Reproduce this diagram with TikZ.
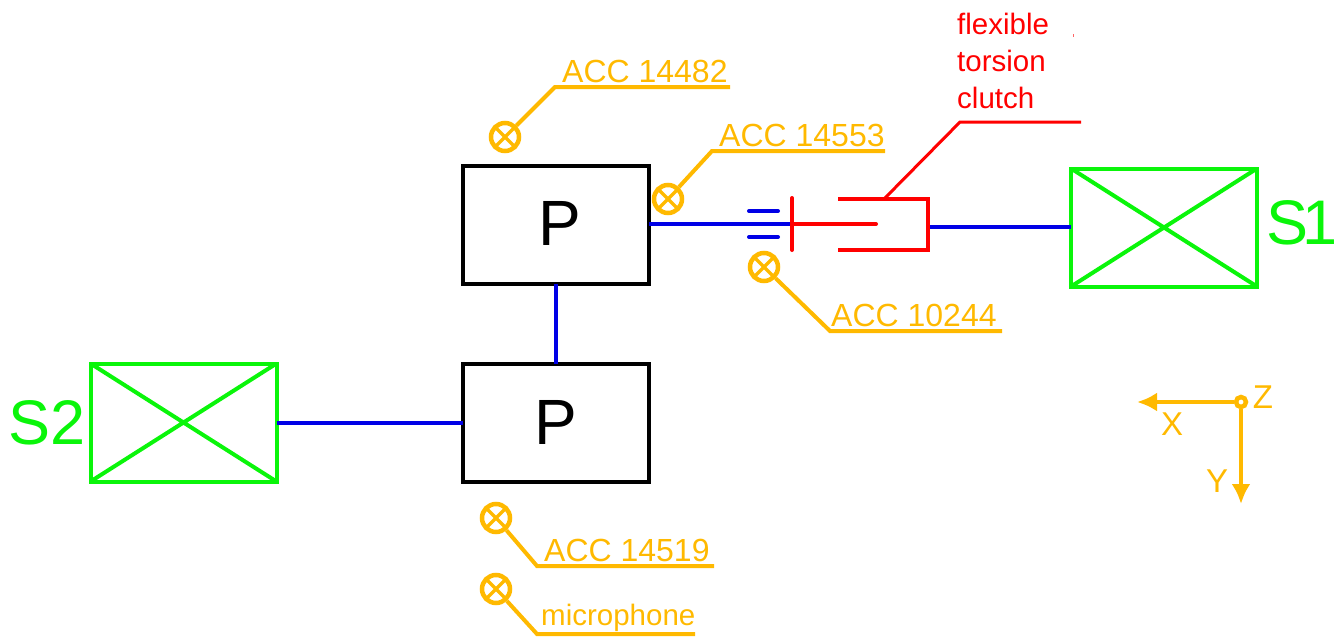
\documentclass[tikz,border=0pt]{standalone}
\usepackage{fontspec}
\setmainfont{Liberation Sans}
\usepackage{tikz}
\usetikzlibrary{arrows.meta,positioning}
\definecolor{acccol}{HTML}{FFB900}
\definecolor{drivecol}{HTML}{0AF50A}
\definecolor{shaftcol}{HTML}{0000E6}
\definecolor{clutchcol}{HTML}{FF0000}

\begin{document}
\begin{tikzpicture}[x=1pt,y=-1pt,>={Latex[length=20pt,width=19pt]},line join=miter]
\tikzstyle{pump}=[draw=black,line width=4pt,outer sep=0pt,minimum width=186pt,minimum height=118pt,inner sep=0pt,font=\fontsize{64}{64}\selectfont]
\tikzstyle{drive}=[draw=drivecol,line width=4pt,outer sep=0pt,minimum width=186pt,minimum height=118pt,inner sep=0pt,
  path picture={\draw[drivecol,line width=4pt] (path picture bounding box.north west) -- (path picture bounding box.south east)
  (path picture bounding box.south west) -- (path picture bounding box.north east);}]
\tikzstyle{drivetag}=[text=drivecol,inner sep=0pt,font=\fontsize{63}{63}\selectfont]
\tikzstyle{sensor}=[circle,draw=acccol,line width=4.5pt,minimum size=28pt,inner sep=0pt,
  path picture={\draw[acccol,line width=3.5pt] (path picture bounding box.north west) -- (path picture bounding box.south east)
  (path picture bounding box.south west) -- (path picture bounding box.north east);}]
\tikzstyle{tag}=[text=acccol,anchor=south west,inner xsep=7pt,inner ysep=4pt,font=\fontsize{32}{32}\selectfont]
\tikzstyle{axistag}=[text=acccol,inner sep=0pt,font=\fontsize{33}{33}\selectfont]
\tikzstyle{leader}=[draw=acccol,line width=4pt]
\tikzstyle{shaft}=[draw=shaftcol,line width=4pt]
\tikzstyle{clutch}=[draw=clutchcol,line width=4pt,line cap=round]

\useasboundingbox (0,0) rectangle (1344,640);

\node[pump]  (P1) at (556,224.5)   {\hspace{7pt}\raisebox{1.5pt}{P}};
\node[pump]  (P2) [below=80pt of P1] {\raisebox{-0.5pt}{P}};
\node[drive] (S1) at (1164,227.5)  {};
\node[drive] (S2) at (183.5,422.5) {};
\node[drivetag] (S1T) [right=9pt of S1,yshift=5pt] {S\kern-6pt 1};
\node[drivetag] (S2T) [left=5pt of S2]  {S2};

% shafts
\coordinate (F1) at (792,224);
\coordinate (F2) at (928,227);
\path[shaft] (P1.east |- F1) edge (F1)
             (F2) edge (S1.west |- F2)
             (P1) edge (P2)
             (S2.east |- P2) edge (P2.west);
\draw[shaft,line cap=round] (749,211) -- (778,211);
\draw[shaft,line cap=round] (749,237) -- (778,237);

% clutch
\draw[clutch] (792,198) -- (792,250);
\draw[clutch] (F1) -- (876,224);
\draw[clutch,line cap=butt] (838,199) -- (928,199) -- (928,250) -- (838,250);
\coordinate (R1) at (885,198);
\coordinate (R2) at (960,122);
\coordinate (R3) at (1081,122);
\draw[clutchcol,line width=3pt] (R1) -- (R2) -- (R3);
\node[text=clutchcol,anchor=south west,align=left,inner sep=0pt,font=\fontsize{29.5}{37}\selectfont] (RT) at (957,109) {flexible\\torsion\\clutch};
\draw[clutchcol!60,line width=1pt] (1073.5,34) -- (1073.5,37);

% sensors
\node[sensor] (A1) at (505,137) {};
\node[sensor] (A2) at (668,199) {};
\node[sensor] (A3) at (764,267) {};
\node[sensor] (A4) at (496,518) {};
\node[sensor] (A5) at (496,589) {};
\coordinate (E1) at (555,87);
\coordinate (E2) at (712,151);
\coordinate (E3) at (830,331);
\coordinate (E4) at (537,566);
\coordinate (E5) at (537,634);
\node[tag] (L1) at (E1) {ACC 14482};
\node[tag] (L2) at (E2) {ACC 14553};
\node[tag,inner xsep=1pt] (L3) at (E3) {ACC 10244};
\node[tag] (L4) at (E4) {ACC 14519};
\node[tag,font=\fontsize{29.5}{29.5}\selectfont,inner xsep=4pt,inner ysep=2pt] (L5) at (E5) {microphone};
\path[leader] (A1) -- (E1) -- (730,87)
              (A2) -- (E2) -- (885,151)
              (A3) -- (E3) -- (1002,331)
              (A4) -- (E4) -- (714,566)
              (A5) -- (E5) -- (695,634);

% axes
\node[circle,draw=acccol,line width=4.5pt,minimum size=10pt,inner sep=0pt] (O) at (1241,402) {};
\coordinate (XE) at (1137,402);
\coordinate (YE) at (1241,504);
\draw[->,draw=acccol,fill=acccol,line width=4pt] (O) -- (XE);
\draw[->,draw=acccol,fill=acccol,line width=4pt] (O) -- (YE);
\node[axistag] (X) at (1172,424) {X};
\node[axistag] (Y) at (1217,481) {Y};
\node[axistag] (Z) at (1263,397) {Z};
\end{tikzpicture}
\end{document}
